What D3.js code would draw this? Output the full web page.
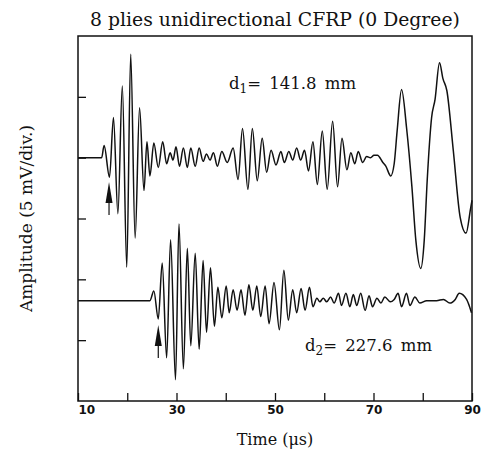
<!DOCTYPE html>
<html>
<head>
<meta charset="utf-8">
<script src="https://cdn.jsdelivr.net/npm/d3@7"></script>
<style>
    body { margin: 0; background: #fff; }
    text { fill: #111; }
</style>
</head>
<body>
<div id="chart"></div>
<script>
// time axis (µs) and amplitude grid (mV, 5 mV per division)
var timeTicks = [10, 20, 30, 40, 50, 60, 70, 80, 90];
var timeLabels = [10, 30, 50, 70, 90];
var ampTicks = [5, 10, 15, 20, 25];

// trace 1 : d1 = 141.8 mm, extrema (time µs, amplitude mV)
var topTime = [10, 14.8, 15.3, 16.4, 17.2, 18.1, 19.0, 19.9, 20.7, 21.6, 22.5, 23.4, 24.0, 24.6, 25.4, 26.3, 27.2, 28.0, 28.7, 29.3,
    29.9, 30.6, 31.4, 32.2, 32.9, 33.8, 34.6, 35.4, 36.1, 36.8, 37.5, 38.3, 39.2, 40.3, 41.5, 42.5, 43.4, 44.5, 45.4, 46.4,
    47.4, 48.3, 49.2, 50.2, 51.2, 51.9, 52.8, 53.6, 54.4, 55.2, 56.0, 56.8, 57.7, 58.6, 59.6, 60.6, 61.7, 62.7, 63.6, 64.6,
    65.4, 66.2, 66.9, 67.8, 68.6, 69.4, 70.1, 70.8, 71.9, 72.5, 73.5, 74.2, 74.8, 75.7, 76.7, 77.8, 78.6, 79.6, 80.3, 80.9,
    81.8, 82.5, 83.4, 84.1, 84.9, 86.2, 87.6, 88.8, 89.7, 90];
var topAmp = [0, 0, 1.0, -1.6, 3.3, -4.6, 5.9, -9.0, 8.5, -6.6, 4.1, -2.7, 1.3, -1.5, 1.2, -0.8, 1.3, -0.5, 0.4, -0.2,
    0.9, -0.7, 0.8, -0.8, 0.8, -0.7, 0.8, -0.3, 0.3, -0.2, 0.4, -0.7, 0.5, -0.4, 0.8, -1.8, 2.4, -2.6, 2.4, -1.9,
    1.6, -1.2, 0.6, -0.6, 0.5, -0.4, 0.5, -0.2, 0.8, -0.2, 0.6, -1.1, 1.3, -2.2, 2.2, -2.6, 3.0, -2.4, 1.6, -1.0,
    0.4, -0.5, 0.5, -0.4, 0.1, 0.0, 0.2, 0.2, -0.4, -0.7, -1.5, -0.5, 2.2, 5.6, 2.5, -2.4, -6.8, -9.1, -6.8, -1.9,
    3.3, 4.8, 7.8, 6.5, 5.5, 0.6, -4.9, -6.2, -4.2, -3.5];

// trace 2 : d2 = 227.6 mm
var bottomTime = [10, 24.6, 25.4, 26.3, 27.1, 28.0, 28.8, 29.8, 30.5, 31.4, 32.2, 32.9, 33.8, 34.6, 35.4, 36.1, 36.9, 37.7, 38.4, 39.2,
    40.1, 40.7, 41.5, 42.3, 43.1, 43.9, 44.7, 45.5, 46.3, 47.1, 48.0, 48.8, 49.8, 50.9, 51.8, 52.7, 53.6, 54.4, 55.3, 56.1,
    57.0, 57.7, 58.5, 59.1, 59.8, 60.5, 61.3, 62.0, 62.9, 63.5, 64.4, 65.2, 65.9, 66.6, 67.4, 68.3, 69.1, 69.8, 70.7, 71.5,
    72.3, 73.4, 74.2, 75.0, 75.7, 76.7, 77.4, 78.4, 79.4, 80.8, 82.8, 84.2, 85.5, 86.6, 87.4, 88.9, 89.9];
var bottomAmp = [0, 0, 0.8, -1.5, 3.1, -4.7, 5.0, -6.5, 6.3, -5.6, 4.3, -3.7, 3.9, -4.0, 3.3, -2.6, 2.7, -2.1, 1.1, -1.4,
    1.2, -1.0, 0.9, -0.8, 0.9, -1.2, 1.3, -0.8, 1.2, -1.3, 1.2, -1.9, 1.5, -2.4, 2.5, -1.6, 0.9, -1.0, 1.0, -0.8,
    1.1, -0.5, 0.2, -0.1, 0.2, -0.1, 0.3, -0.2, 0.6, -0.4, 0.6, -0.5, 0.5, -0.4, 0.6, -0.8, 0.4, -0.5, 0.2, -0.2,
    0.3, -0.1, 0.1, 0.6, -0.5, 0.6, -0.4, 0.3, -0.2, 0, 0, 0.1, -0.2, 0.1, 0.6, 0.1, -1.0];

// baselines of the two traces on the 0-30 mV grid, arrival times marked by arrows
var traceOffsets = [20, 8.25];
var arrivalTimes = [16.3, 26.3];
var distanceLabels = ['1', '2'];
var distanceValues = ['141.8', '227.6'];

class WaveformChart {
    constructor(selector, width, height, margin) {
        this._selector = selector;
        this._width = width;
        this._height = height;
        this._margin = margin;
        this._plot_width = width - margin.left - margin.right;
        this._plot_height = height - margin.top - margin.bottom;
    }

    data(traces) {
        if (!arguments.length) return this._traces;
        this._traces = traces;
        return this;
    }

    render() {
        var that = this;
        var m = this._margin;

        var svg = d3.select(that._selector).append('svg')
            .attr('width', that._width)
            .attr('height', that._height);

        this._graphdom = svg.append('g')
            .attr('transform', `translate(${m.left},${m.top})`);

        this._xScale = d3.scaleLinear().domain([10, 90]).range([0, that._plot_width]);
        this._yScale = d3.scaleLinear().domain([0, 30]).range([that._plot_height, 0]);
        var x = this._xScale, y = this._yScale;

        // X Axis : inward ticks, labels only every 20 µs
        var xAxis = this._graphdom.append('g')
            .attr('transform', `translate(0, ${that._plot_height})`)
            .call(d3.axisBottom(x).tickValues(timeTicks).tickSizeInner(-8).tickSizeOuter(0).tickPadding(4)
                .tickFormat(d => timeLabels.indexOf(d) >= 0 ? d : ''));
        xAxis.select('.domain').remove();
        xAxis.selectAll('line').attr('stroke', '#111').attr('stroke-width', 1.3);
        xAxis.selectAll('text')
            .style('font-family', 'DejaVu Sans')
            .style('font-weight', 'bold')
            .style('font-size', '12px')
            .attr('fill', '#111');
        xAxis.selectAll('.tick').filter(d => d === 10).select('text').attr('text-anchor', 'start').attr('x', 0);

        // Y Axis : ticks only
        var yAxis = this._graphdom.append('g')
            .call(d3.axisLeft(y).tickValues(ampTicks).tickSizeInner(-8).tickSizeOuter(0).tickFormat(''));
        yAxis.select('.domain').remove();
        yAxis.selectAll('line').attr('stroke', '#111').attr('stroke-width', 1.3);

        // frame
        this._graphdom.append('rect')
            .attr('width', that._plot_width)
            .attr('height', that._plot_height)
            .attr('fill', 'none')
            .attr('stroke', '#111')
            .attr('stroke-width', 1.5);

        var line = d3.line()
            .x(d => x(d.t))
            .y(d => y(d.offset + d.a))
            .curve(d3.curveMonotoneX);

        this._graphdom.selectAll('.trace')
            .data(that._traces).join('path')
            .attr('class', 'trace')
            .attr('d', d => line(d.time.map((t, i) => ({ t: t, a: d.amp[i], offset: d.offset }))))
            .attr('fill', 'none')
            .attr('stroke', '#111')
            .attr('stroke-width', 1.5)
            .attr('stroke-linejoin', 'round');

        // arrows marking the first arrival
        var arrows = this._graphdom.selectAll('.arrow')
            .data(that._traces).join('g')
            .attr('class', 'arrow')
            .attr('transform', d => `translate(${x(d.arrival)},${y(d.offset - 2)})`);
        arrows.append('path')
            .attr('d', 'M0,0 L3.5,21 L-3.5,21 Z')
            .attr('fill', '#111');
        arrows.append('line')
            .attr('x1', 0).attr('x2', 0)
            .attr('y1', 20).attr('y2', 33)
            .attr('stroke', '#111')
            .attr('stroke-width', 1.2);

        // distance labels
        var labelPos = [[229 - m.left, 89 - m.top], [305 - m.left, 351 - m.top]];
        var labels = this._graphdom.selectAll('.dist')
            .data(that._traces).join('text')
            .attr('class', 'dist')
            .attr('x', (d, i) => labelPos[i][0])
            .attr('y', (d, i) => labelPos[i][1])
            .style('font-family', 'DejaVu Serif')
            .style('font-size', '16.5px');
        labels.append('tspan').text('d');
        labels.append('tspan').attr('dy', 4).style('font-size', '12px').text(d => d.sub);
        labels.append('tspan').attr('dy', -4).text(d => '=\u2002' + d.dist + '\u2002mm');

        // titles
        svg.append('text')
            .attr('x', m.left + that._plot_width / 2)
            .attr('y', 26)
            .attr('text-anchor', 'middle')
            .style('font-family', 'DejaVu Serif')
            .style('font-size', '18.8px')
            .text('8 plies unidirectional CFRP (0 Degree)');

        svg.append('text')
            .attr('x', m.left + that._plot_width / 2)
            .attr('y', 445)
            .attr('text-anchor', 'middle')
            .style('font-family', 'DejaVu Serif')
            .style('font-size', '16px')
            .text('Time (\u03bcs)');

        svg.append('text')
            .attr('transform', `translate(32, ${m.top + that._plot_height / 2}) rotate(-90)`)
            .attr('text-anchor', 'middle')
            .style('font-family', 'DejaVu Serif')
            .style('font-size', '17px')
            .text('Amplitude (5 mV/div.)');
    }
}

var traces = [
    { time: topTime, amp: topAmp, offset: traceOffsets[0], arrival: arrivalTimes[0], sub: distanceLabels[0], dist: distanceValues[0] },
    { time: bottomTime, amp: bottomAmp, offset: traceOffsets[1], arrival: arrivalTimes[1], sub: distanceLabels[1], dist: distanceValues[1] }
];

var chart = new WaveformChart('#chart', 487, 456, { top: 36, right: 15, bottom: 55, left: 78 });
chart.data(traces).render();
</script>
</body>
</html>
